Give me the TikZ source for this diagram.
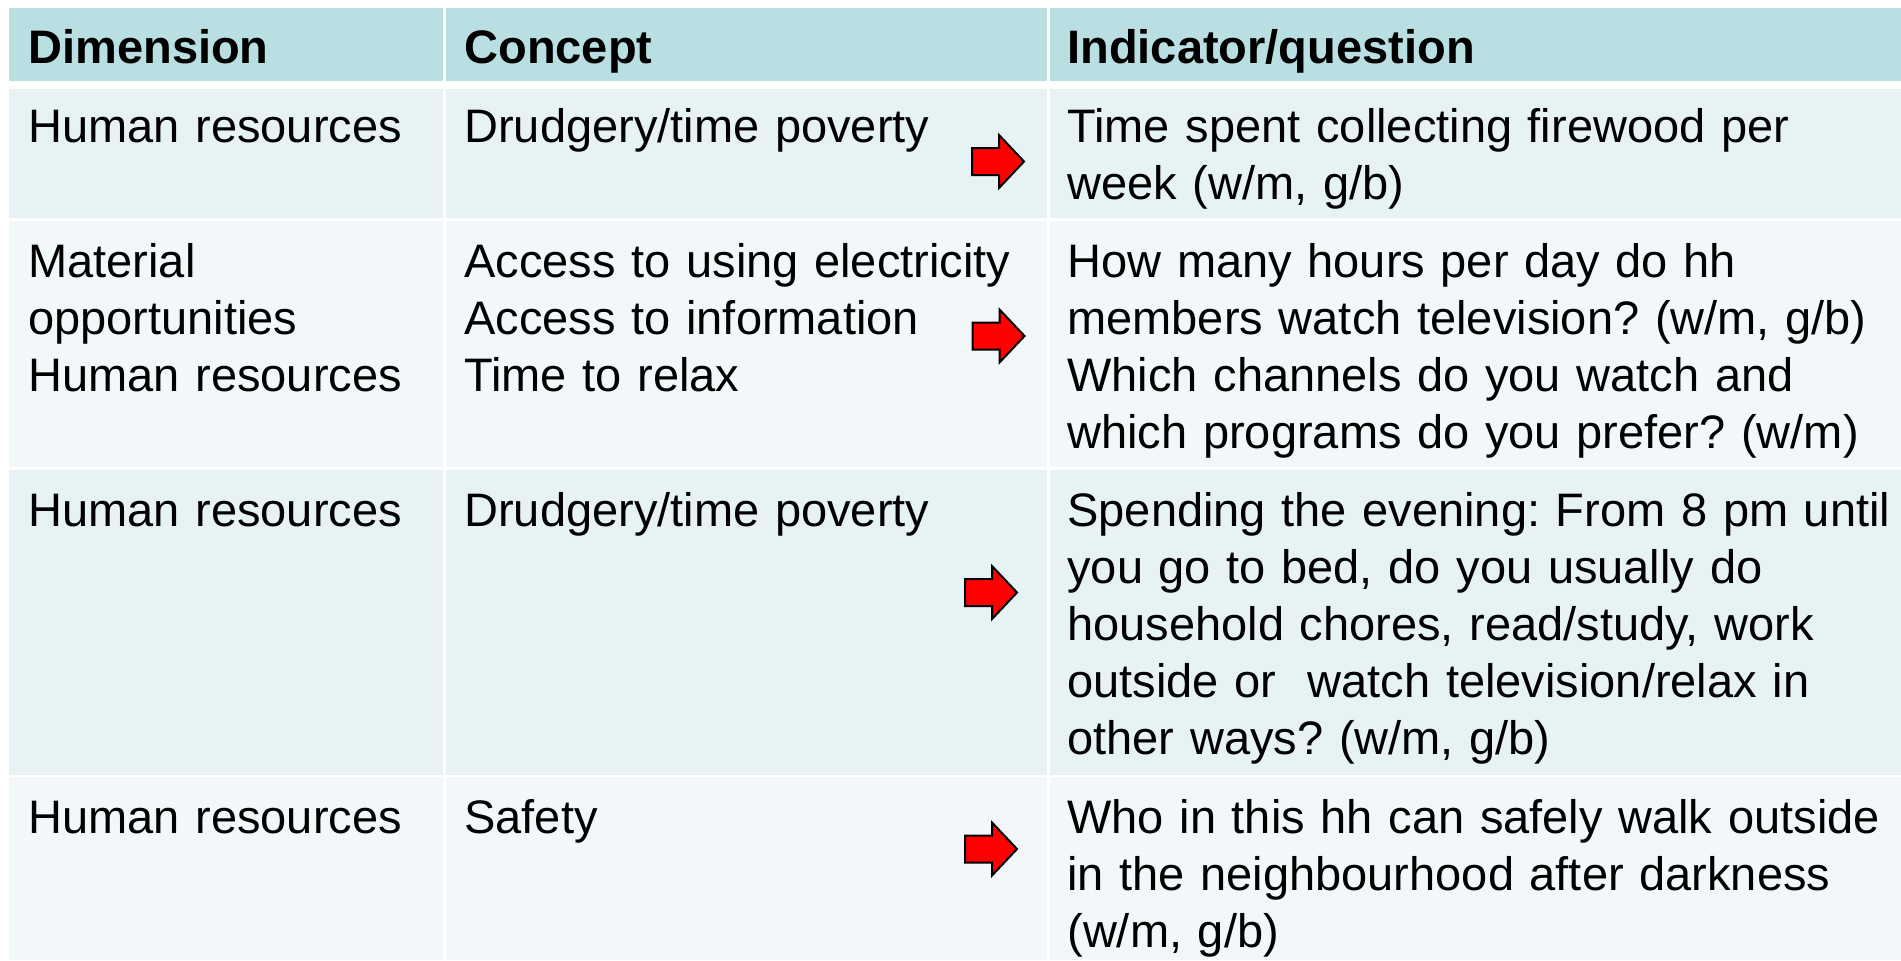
\documentclass[tikz,border=0pt]{standalone}
\usepackage{fontspec}
\setmainfont{Liberation Sans}
\usepackage{tikz}
\definecolor{headblue}{RGB}{185,223,227}
\definecolor{rowdark}{RGB}{231,242,244}
\definecolor{rowlight}{RGB}{242,248,250}
\frenchspacing

\begin{document}
\begin{tikzpicture}[x=0.5pt,y=-0.5pt]
    \tikzstyle{cellhead}=[anchor=base west,inner sep=0pt,font=\fontsize{23.5}{28.5}\selectfont\bfseries]
    \tikzstyle{celltext}=[anchor=base west,inner sep=0pt,align=left,font=\fontsize{23.5}{28.5}\selectfont]
    \tikzstyle{dimcol}=[celltext,text width=210pt]
    \tikzstyle{concol}=[celltext,text width=290pt]
    \tikzstyle{indcol}=[celltext,text width=440pt]
    \tikzstyle{redarrow}=[draw=black,fill=red,line width=1pt,line join=miter]

    \useasboundingbox (0,0) rectangle (1901,960);
    \fill[white] (0,0) rectangle (1901,960);

    % cells
    \fill[headblue] (9,8) rectangle (443,81);
    \fill[headblue] (445.5,8) rectangle (1047,81);
    \fill[headblue] (1049.5,8) rectangle (1901,81);
    \fill[rowdark] (9,89) rectangle (443,218);
    \fill[rowdark] (445.5,89) rectangle (1047,218);
    \fill[rowdark] (1049.5,89) rectangle (1901,218);
    \fill[rowlight] (9,221) rectangle (443,467);
    \fill[rowlight] (445.5,221) rectangle (1047,467);
    \fill[rowlight] (1049.5,221) rectangle (1901,467);
    \fill[rowdark] (9,470) rectangle (443,774.5);
    \fill[rowdark] (445.5,470) rectangle (1047,774.5);
    \fill[rowdark] (1049.5,470) rectangle (1901,774.5);
    \fill[rowlight] (9,777) rectangle (443,960);
    \fill[rowlight] (445.5,777) rectangle (1047,960);
    \fill[rowlight] (1049.5,777) rectangle (1901,960);

    \node[cellhead] (hdim) at (28,63) {Dimension};
    \node[cellhead] (hcon) at (464,63) {Concept};
    \node[cellhead] (hind) at (1067,63) {Indicator/question};

    \node[dimcol] (dim1) at (28,142) {Human resources};
    \node[concol] (con1) at (464,142) {Drudgery/time poverty};
    \node[indcol] (ind1) at (1067,142) {Time spent collecting firewood per\\
        week (w/m, g/b)};

    \node[dimcol] (dim2) at (28,277) {Material\\ opportunities\\ Human resources};
    \node[concol] (con2) at (464,277) {Access to using electricity\\
        Access to information\\ Time to relax};
    \node[indcol] (ind2) at (1067,277) {How many hours per day do hh\\
        members watch television? (w/m, g/b)\\
        Which channels do you watch and\\
        which programs do you prefer? (w/m)};

    \node[dimcol] (dim3) at (28,526) {Human resources};
    \node[concol] (con3) at (464,526) {Drudgery/time poverty};
    \node[indcol] (ind3) at (1067,526) {Spending the evening: From 8 pm until\\
        you go to bed, do you usually do\\
        household chores, read/study, work\\
        outside or~ watch television/relax in\\
        other ways? (w/m, g/b)};

    \node[dimcol] (dim4) at (28,833) {Human resources};
    \node[concol] (con4) at (464,833) {Safety};
    \node[indcol] (ind4) at (1067,833) {Who in this hh can safely walk outside\\
        in the neighbourhood after darkness\\
        (w/m, g/b)};

    % arrows
    \foreach \ax/\ay in {998/161.5, 998.5/336, 991/592.5, 991/849}
        \draw[redarrow,shift={(\ax,\ay)}] (-26,-13.5) -- (1,-13.5) -- (1,-26.5)
            -- (26,0) -- (1,26.5) -- (1,13.5) -- (-26,13.5) -- cycle;
\end{tikzpicture}
\end{document}
